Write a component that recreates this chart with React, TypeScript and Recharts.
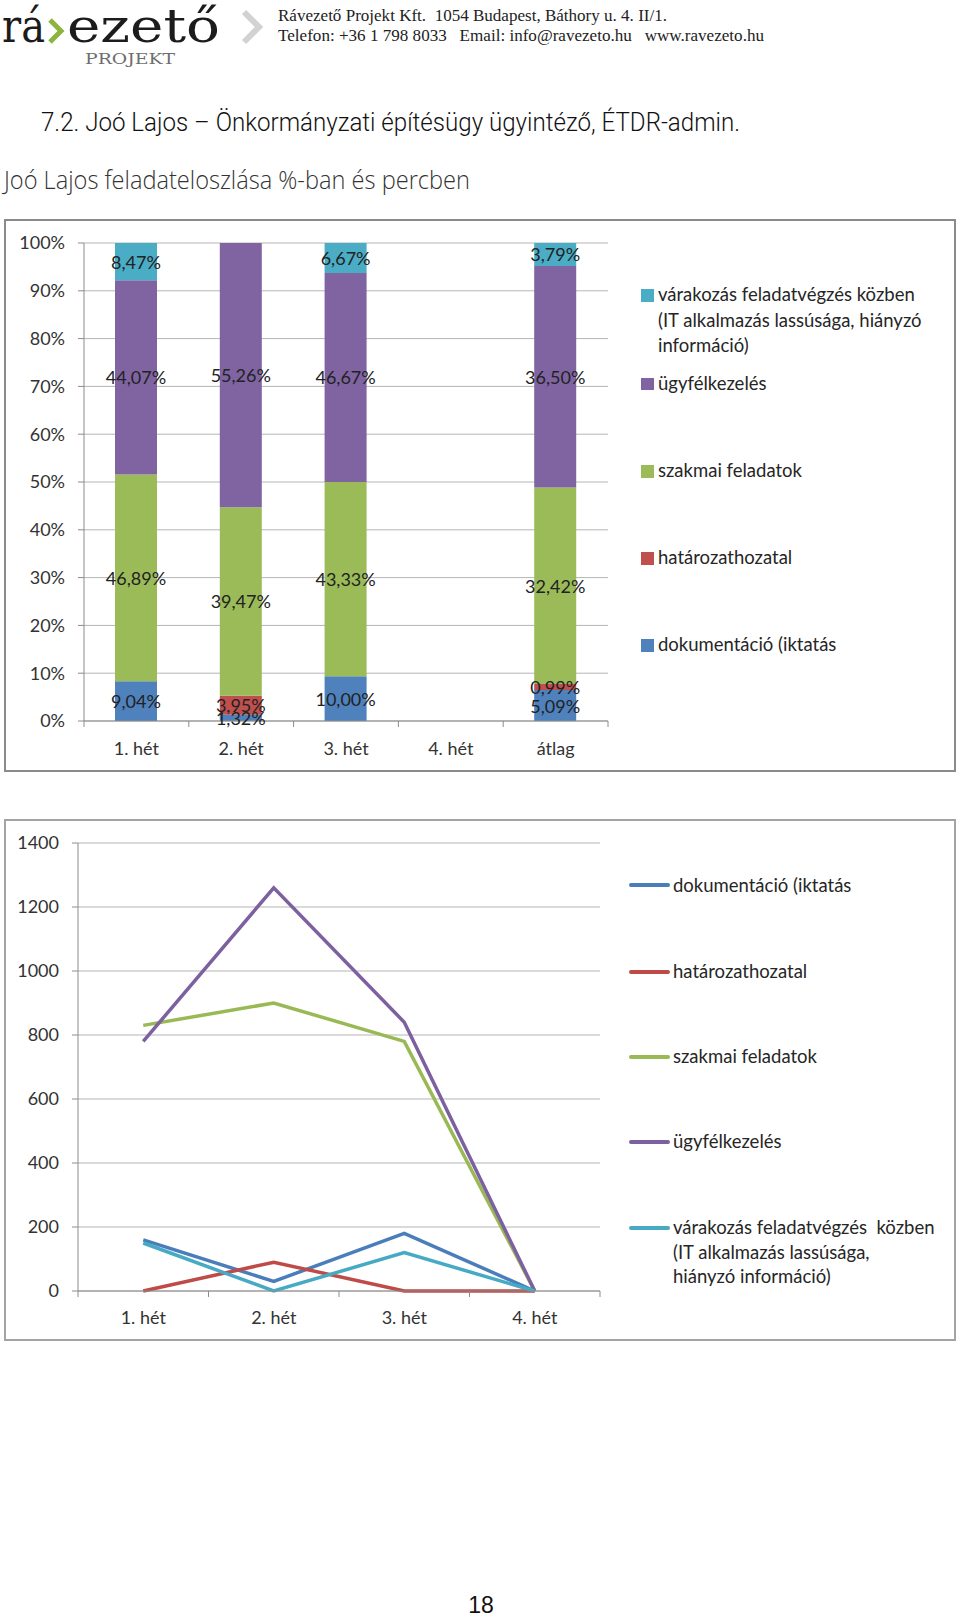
import React from 'react';
import {
  BarChart, Bar, ComposedChart, Line, XAxis, YAxis, CartesianGrid, LabelList,
} from 'recharts';

// ---- data ----
const barCategories = ['1. hét', '2. hét', '3. hét', '4. hét', 'átlag'];
const pctDokumentacio = [9.04, 1.32, 10.0, 0, 5.09];
const pctHatarozat = [0, 3.95, 0, 0, 0.99];
const pctSzakmai = [46.89, 39.47, 43.33, 0, 32.42];
const pctUgyfel = [44.07, 55.26, 46.67, 0, 36.5];
const pctVarakozas = [8.47, 0, 6.67, 0, 3.79];
const pctTicks = [0, 0.1, 0.2, 0.3, 0.4, 0.5, 0.6, 0.7, 0.8, 0.9, 1];

const lineCategories = ['1. hét', '2. hét', '3. hét', '4. hét'];
const minDokumentacio = [160, 30, 180, 0];
const minHatarozat = [0, 90, 0, 0];
const minSzakmai = [830, 900, 780, 0];
const minUgyfel = [780, 1260, 840, 0];
const minVarakozas = [150, 0, 120, 0];
const minTicks = [0, 200, 400, 600, 800, 1000, 1200, 1400];

const barData = barCategories.map((name, i) => ({
  name,
  dok: pctDokumentacio[i],
  hat: pctHatarozat[i],
  szak: pctSzakmai[i],
  ugy: pctUgyfel[i],
  vár: pctVarakozas[i],
}));

const lineData = lineCategories.map((name, i) => ({
  name,
  dok: minDokumentacio[i],
  hat: minHatarozat[i],
  szak: minSzakmai[i],
  ugy: minUgyfel[i],
  vár: minVarakozas[i],
}));

const FONT = "Lato, 'Open Sans', sans-serif";
const AXIS = '#8c8c8c';
const GRID = '#b5b5b5';

const barColors = { dok: '#4F81BD', hat: '#C0504D', szak: '#9BBB59', ugy: '#8064A2', vár: '#4BACC6' };
const lineColors = { dok: '#4A7EBB', hat: '#BE4B48', szak: '#98B954', ugy: '#7D60A0', vár: '#46AAC5' };

const fmtPct = (v: number) => v.toFixed(2).replace('.', ',') + '%';

const renderPctLabel = (props: any) => {
  const { x, y, width, height, value } = props;
  const v = Number(value);
  if (!v) return null;
  return (
    <text
      x={Number(x) + Number(width) / 2}
      y={Number(y) + Number(height) / 2}
      textAnchor="middle"
      dominantBaseline="central"
      fontFamily={FONT}
      fontSize={18}
      fill="#222"
    >
      {fmtPct(v)}
    </text>
  );
};

// category tick: label in the middle, tick marks on the band edges (Excel style)
const makeCatTick = (band: number, count: number, dy: number) => (props: any) => {
  const { x, y, payload, index } = props;
  return (
    <g>
      <line x1={x - band / 2} x2={x - band / 2} y1={y} y2={y + 6} stroke={AXIS} />
      {index === count - 1 && <line x1={x + band / 2} x2={x + band / 2} y1={y} y2={y + 6} stroke={AXIS} />}
      <text x={x} y={y + dy} textAnchor="middle" dominantBaseline="central" fontFamily={FONT} fontSize={18} fill="#333">
        {payload.value}
      </text>
    </g>
  );
};

const yTickStyle = { fontFamily: FONT, fontSize: 18, fill: '#333' };

const barLegend = [
  { key: 'vár', lines: ['várakozás feladatvégzés közben', '(IT alkalmazás lassúsága, hiányzó', 'információ)'], cy: 295 },
  { key: 'ugy', lines: ['ügyfélkezelés'], cy: 383.5 },
  { key: 'szak', lines: ['szakmai feladatok'], cy: 471 },
  { key: 'hat', lines: ['határozathozatal'], cy: 558 },
  { key: 'dok', lines: ['dokumentáció (iktatás'], cy: 645 },
];

const lineLegend = [
  { key: 'dok', lines: ['dokumentáció (iktatás'], cy: 885 },
  { key: 'hat', lines: ['határozathozatal'], cy: 971.5 },
  { key: 'szak', lines: ['szakmai feladatok'], cy: 1056.5 },
  { key: 'ugy', lines: ['ügyfélkezelés'], cy: 1141.5 },
  { key: 'vár', lines: ['várakozás feladatvégzés  közben', '(IT alkalmazás lassúsága,', 'hiányzó információ)'], cy: 1227.5 },
];

const pre = { whiteSpace: 'pre' as const };

const Header = () => (
  <svg width={960} height={200} style={{ position: 'absolute', left: 0, top: 0 }}>
    <text x={2} y={42} fontFamily="'DejaVu Serif', serif" fontSize={46} fill="#1c1c1c" textLength={43} lengthAdjust="spacingAndGlyphs">rá</text>
    <polyline points="50,20 61,31 50,42" fill="none" stroke="#8db440" strokeWidth={5} />
    <text x={67} y={42} fontFamily="'DejaVu Serif', serif" fontSize={46} fill="#1c1c1c" textLength={153} lengthAdjust="spacingAndGlyphs">ezető</text>
    <text x={85} y={64} fontFamily="'DejaVu Serif', serif" fontSize={15} fill="#6e6e6e" textLength={90} lengthAdjust="spacingAndGlyphs">PROJEKT</text>
    <polyline points="244,12 259,27 244,42" fill="none" stroke="#d2d2d2" strokeWidth={6} />
    <text x={278} y={21} style={pre} fontFamily="'Liberation Serif', serif" fontSize={16} fill="#222" textLength={389} lengthAdjust="spacingAndGlyphs">
      {'Rávezető Projekt Kft.  1054 Budapest, Báthory u. 4. II/1.'}
    </text>
    <text x={278} y={41} style={pre} fontFamily="'Liberation Serif', serif" fontSize={16} fill="#222" textLength={486} lengthAdjust="spacingAndGlyphs">
      {'Telefon: +36 1 798 8033   Email: info@ravezeto.hu   www.ravezeto.hu'}
    </text>
    <text x={41} y={131} fontFamily="Roboto, 'Liberation Sans', sans-serif" fontWeight={300} fontSize={26} fill="#111" textLength={699} lengthAdjust="spacingAndGlyphs">
      7.2. Joó Lajos – Önkormányzati építésügy ügyintéző, ÉTDR-admin.
    </text>
    <text x={4} y={189} fontFamily="'Open Sans', sans-serif" fontWeight={300} fontSize={25} fill="#333" textLength={466} lengthAdjust="spacingAndGlyphs">
      Joó Lajos feladateloszlása %-ban és percben
    </text>
  </svg>
);

export default function App() {
  return (
    <div style={{ position: 'relative', width: 960, height: 1617, background: '#fff', overflow: 'hidden', fontFamily: FONT }}>
      <style>{'body{margin:0}'}</style>
      <Header />

      {/* chart 1: 100% stacked columns */}
      <div style={{ position: 'absolute', left: 4, top: 219, width: 952, height: 553, boxSizing: 'border-box', border: '2px solid #8a8a8a' }} />
      <div style={{ position: 'absolute', left: 0, top: 219 }}>
        <BarChart
          width={960}
          height={560}
          data={barData}
          stackOffset="expand"
          margin={{ top: 24, right: 352, left: 14, bottom: 28 }}
        >
          <CartesianGrid vertical={false} stroke={GRID} />
          <XAxis
            dataKey="name"
            axisLine={{ stroke: AXIS }}
            tickLine={false}
            tickSize={0}
            tickMargin={0}
            height={30}
            interval={0}
            tick={makeCatTick(524 / barCategories.length, barCategories.length, 27)}
          />
          <YAxis
            width={70}
            domain={[0, 1]}
            ticks={pctTicks}
            interval={0}
            tickFormatter={(v: number) => `${Math.round(v * 100)}%`}
            axisLine={{ stroke: AXIS }}
            tickLine={{ stroke: AXIS }}
            tickSize={6}
            tickMargin={13}
            tick={yTickStyle}
          />
          <Bar dataKey="dok" stackId="a" fill={barColors.dok} barSize={42} isAnimationActive={false}>
            <LabelList dataKey="dok" content={renderPctLabel} />
          </Bar>
          <Bar dataKey="hat" stackId="a" fill={barColors.hat} barSize={42} isAnimationActive={false}>
            <LabelList dataKey="hat" content={renderPctLabel} />
          </Bar>
          <Bar dataKey="szak" stackId="a" fill={barColors.szak} barSize={42} isAnimationActive={false}>
            <LabelList dataKey="szak" content={renderPctLabel} />
          </Bar>
          <Bar dataKey="ugy" stackId="a" fill={barColors.ugy} barSize={42} isAnimationActive={false}>
            <LabelList dataKey="ugy" content={renderPctLabel} />
          </Bar>
          <Bar dataKey="vár" stackId="a" fill={barColors['vár']} barSize={42} isAnimationActive={false}>
            <LabelList dataKey="vár" content={renderPctLabel} />
          </Bar>
        </BarChart>
      </div>
      {barLegend.map((it) => (
        <div key={it.key} style={{ position: 'absolute', left: 641, top: it.cy - 12.75, fontSize: 18.5, lineHeight: '25.5px', color: '#262626', whiteSpace: 'pre' }}>
          <div style={{ position: 'absolute', left: 0, top: 7, width: 12.5, height: 12.5, background: (barColors as any)[it.key] }} />
          <div style={{ marginLeft: 17 }}>
            {it.lines.map((l) => (
              <div key={l}>{l}</div>
            ))}
          </div>
        </div>
      ))}

      {/* chart 2: minutes per week */}
      <div style={{ position: 'absolute', left: 4, top: 819, width: 952, height: 522, boxSizing: 'border-box', border: '2px solid #a3a3a3' }} />
      <div style={{ position: 'absolute', left: 0, top: 819 }}>
        <ComposedChart
          width={960}
          height={560}
          data={lineData}
          margin={{ top: 24, right: 360, left: 8, bottom: 58 }}
        >
          <CartesianGrid vertical={false} stroke={GRID} />
          <XAxis
            dataKey="name"
            scale="band"
            axisLine={{ stroke: AXIS }}
            tickLine={false}
            tickSize={0}
            tickMargin={0}
            height={30}
            interval={0}
            tick={makeCatTick(522 / lineCategories.length, lineCategories.length, 26)}
          />
          <YAxis
            width={70}
            domain={[0, 1400]}
            ticks={minTicks}
            interval={0}
            axisLine={{ stroke: AXIS }}
            tickLine={{ stroke: AXIS }}
            tickSize={6}
            tickMargin={13}
            tick={yTickStyle}
          />
          <Line type="linear" dataKey="dok" stroke={lineColors.dok} strokeWidth={3.5} dot={false} isAnimationActive={false} />
          <Line type="linear" dataKey="hat" stroke={lineColors.hat} strokeWidth={3.5} dot={false} isAnimationActive={false} />
          <Line type="linear" dataKey="szak" stroke={lineColors.szak} strokeWidth={3.5} dot={false} isAnimationActive={false} />
          <Line type="linear" dataKey="ugy" stroke={lineColors.ugy} strokeWidth={3.5} dot={false} isAnimationActive={false} />
          <Line type="linear" dataKey="vár" stroke={lineColors['vár']} strokeWidth={3.5} dot={false} isAnimationActive={false} />
        </ComposedChart>
      </div>
      {lineLegend.map((it) => (
        <div key={it.key} style={{ position: 'absolute', left: 629, top: it.cy - 12.25, fontSize: 18.5, lineHeight: '24.5px', color: '#262626', whiteSpace: 'pre' }}>
          <div style={{ position: 'absolute', left: 0, top: 10.5, width: 41, height: 4, borderRadius: 2, background: (lineColors as any)[it.key] }} />
          <div style={{ marginLeft: 44 }}>
            {it.lines.map((l) => (
              <div key={l}>{l}</div>
            ))}
          </div>
        </div>
      ))}

      <svg width={960} height={40} style={{ position: 'absolute', left: 0, top: 1577 }}>
        <text x={481} y={36} textAnchor="middle" fontFamily="'Liberation Sans', Arial, sans-serif" fontSize={23} fill="#111">18</text>
      </svg>
    </div>
  );
}
